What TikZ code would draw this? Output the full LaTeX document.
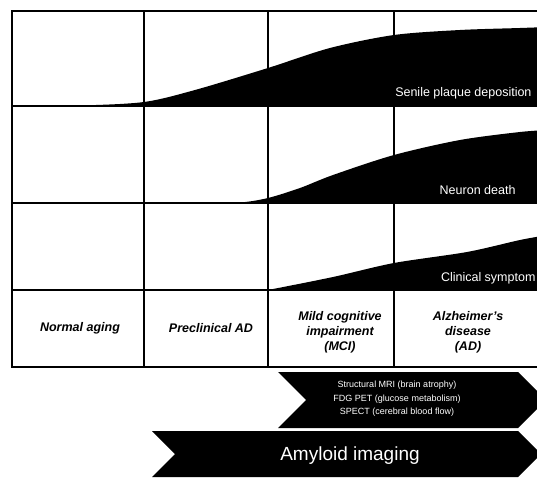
\documentclass[tikz,border=0pt]{standalone}
\usepackage{fontspec}
\setsansfont{Liberation Sans}
\usetikzlibrary{positioning}
\tikzset{
  gridLine/.style={line width=1.1pt, black},
  frame/.style={line width=1.8pt, black},
  stage/.style={font={\sffamily\bfseries\itshape\fontsize{12.5}{15}\selectfont}, align=center, text=black},
  curveLabel/.style={font={\sffamily\fontsize{12.5}{13}\selectfont}, text=white, anchor=east},
  chevron/.style={fill=black},
  modality/.style={font={\sffamily\fontsize{9}{13.5}\selectfont}, text=white, align=center}
}

\begin{document}
\begin{tikzpicture}[x=1pt, y=-1pt]
      \clip (0,0) rectangle (537,478);
      \fill[white] (0,0) rectangle (537,478);

      % curves
      \fill plot[smooth] coordinates {(12,106) (80,105.5) (144,102) (195,90) (268,68) (330,48) (394,35) (460,30) (520,28) (548,27)} -- (548,106) -- cycle;
      \fill plot[smooth] coordinates {(200,203) (240,202.5) (268,198) (300,188) (333,175) (394,155) (460,140) (520,132) (548,130)} -- (548,203) -- cycle;
      \fill plot[smooth] coordinates {(268,290) (333,277) (394,263) (467,252) (520,240) (548,235)} -- (548,290) -- cycle;

      \node[curveLabel] (senile) at (535,93) {Senile plaque deposition};
      \node[curveLabel] (neuron) at (519,190) {Neuron death};
      \node[curveLabel] (clinical) at (539,278) {Clinical symptom};

      % grid
      \draw[gridLine] (144,11) -- (144,367);
      \draw[gridLine] (268,11) -- (268,367);
      \draw[gridLine] (394,11) -- (394,367);
      \draw[gridLine] (12,106) -- (548,106);
      \draw[gridLine] (12,203) -- (548,203);
      \draw[gridLine] (12,290) -- (548,290);
      \draw[frame] (12,11) rectangle (548,367);

      \node[stage] (normal) at (80,328) {Normal aging};
      \node[stage] (preclin) at (211,328) {Preclinical AD};
      \node[stage] (mci) at (340,332) {Mild cognitive\\impairment\\(MCI)};
      \node[stage] (ad) at (468,332) {Alzheimer's\\disease\\(AD)};

      % imaging
      \fill[chevron] (278,372) -- (518,372) -- (546,400) -- (518,428) -- (278,428) -- (306,400) -- cycle;
      \node[modality] (mri) at (397,399) {Structural MRI (brain atrophy)\\FDG PET (glucose metabolism)\\SPECT (cerebral blood flow)};

      \fill[chevron] (152,431) -- (518,431) -- (541,454) -- (518,477) -- (152,477) -- (175,454) -- cycle;
      \node[font={\sffamily\fontsize{19}{20}\selectfont}, text=white] (amyloid) at (350,456) {Amyloid imaging};

\end{tikzpicture}
\end{document}
